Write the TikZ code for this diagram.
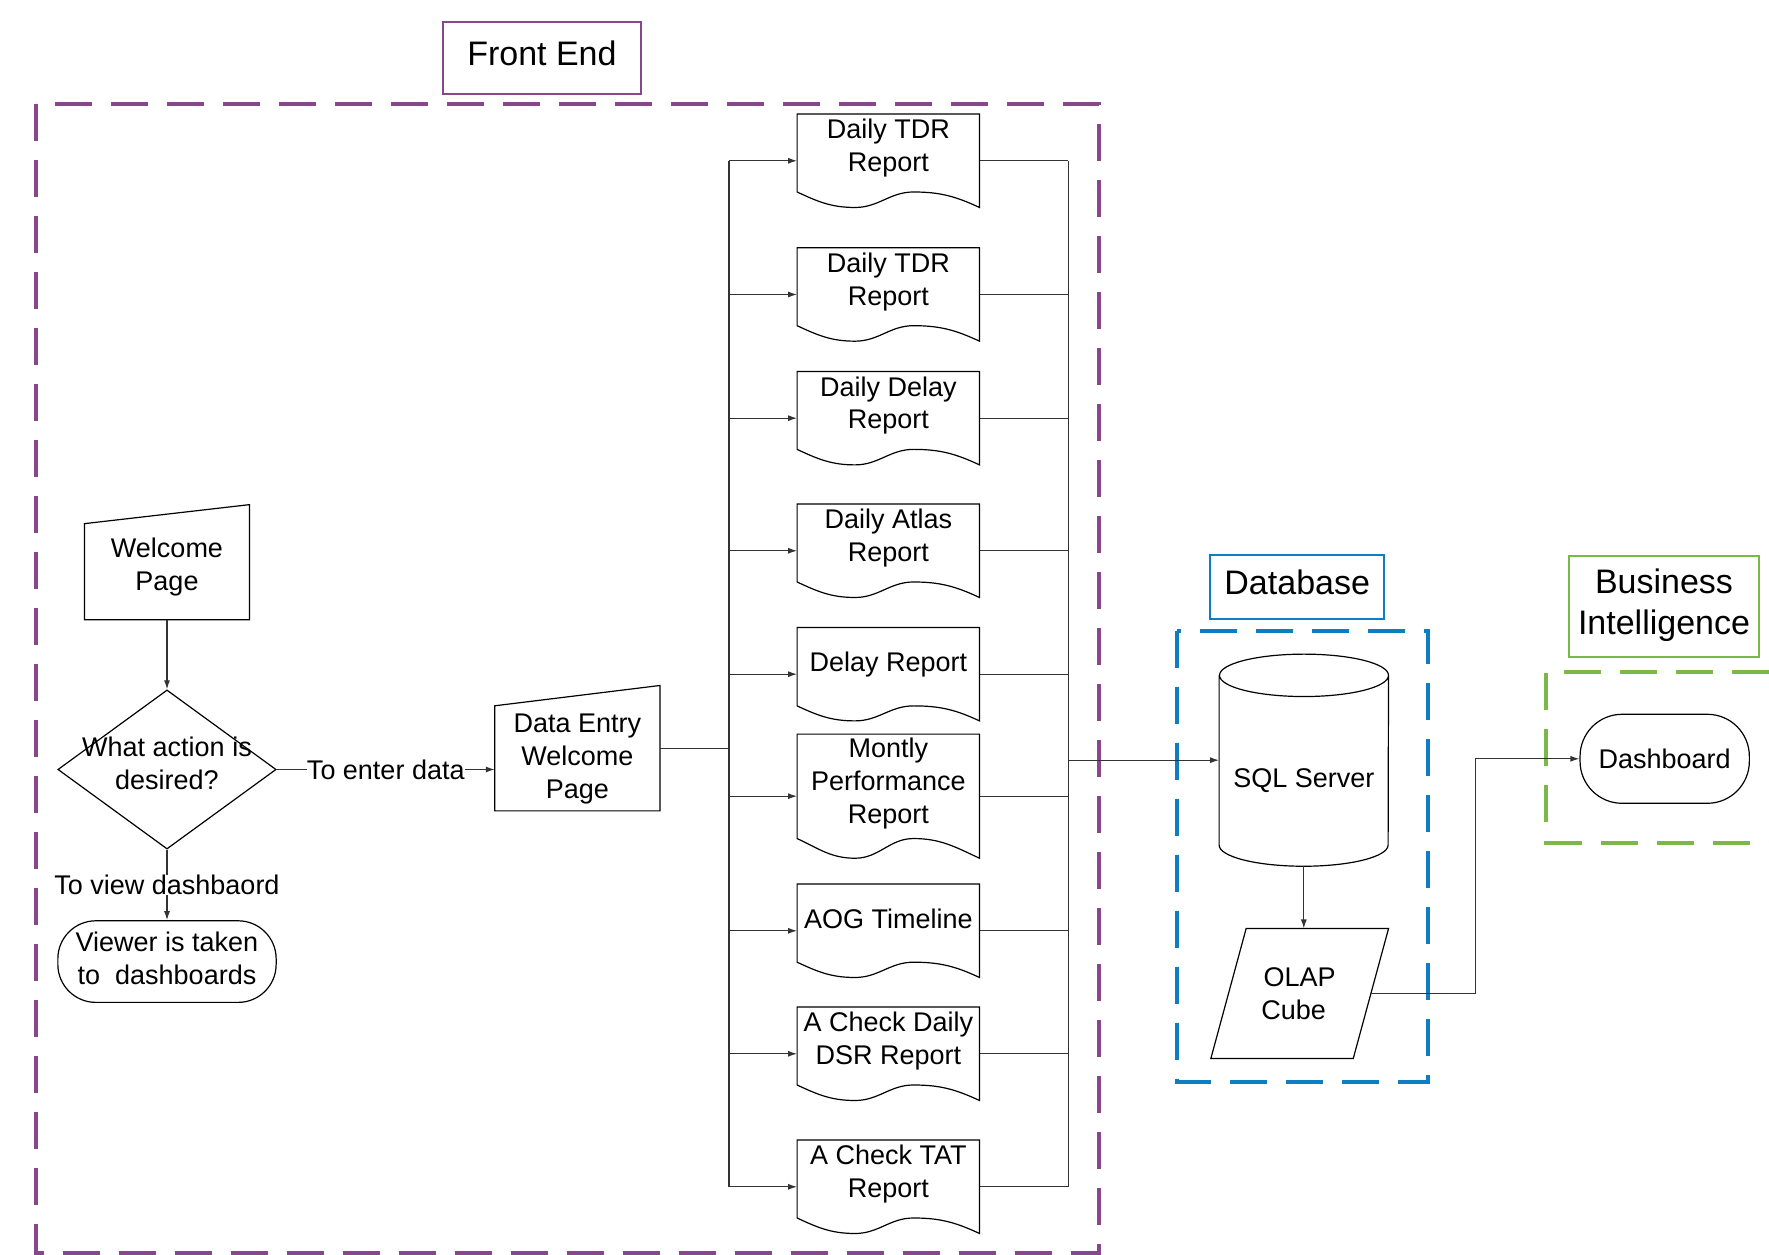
\documentclass[tikz,border=0pt]{standalone}
\usepackage{fontspec}
\setmainfont{Liberation Sans}
\usetikzlibrary{arrows.meta}
\usetikzlibrary{shapes.geometric}

\definecolor{fepurple}{RGB}{134,71,140}
\definecolor{dbblue}{RGB}{14,125,193}
\definecolor{bigreen}{RGB}{122,184,72}

\begin{document}
\begin{tikzpicture}[x=1pt, y=1pt,
  every node/.style={font=\fontsize{27}{32.7}\selectfont},
  headbox/.style={draw, line width=2pt, align=center, text depth=9pt, font=\fontsize{34}{41}\selectfont},
  region/.style={line width=4pt, dash pattern=on 37pt off 19pt},
  box/.style={line width=1.2pt},
  doc/.style={minimum width=182pt, minimum height=93pt, inner sep=0pt, align=center, text depth=31pt},
  link/.style={black!80, line width=1.2pt},
  arr/.style={link, -{Latex[length=9pt, width=6pt]}}]
  \useasboundingbox (0,0) rectangle (1769,1255);

  % Regions and their titles
  \draw[region, fepurple] (36,1151) rectangle (1099,2);
  \draw[region, dbblue] (1177.3,624.3) rectangle (1427.7,172.7);
  \draw[region, bigreen] (1769,583) -- (1546.3,583) -- (1546.3,412.3) -- (1769,412.3);
  \node[headbox, draw=fepurple, minimum width=198pt, minimum height=72pt] (FE) at (541.9,1197.1) {Front End};
  \node[headbox, draw=dbblue, minimum width=174pt, minimum height=64pt] (DBT) at (1297.2,668.1) {Database};
  \node[headbox, draw=bigreen, minimum width=190pt, minimum height=101pt] (BIT) at (1664,648.6) {Business\\Intelligence};

  % Front end: entry and decision
  \node[minimum width=164.6pt, minimum height=114.7pt, inner sep=0pt, align=center, text height=62pt] (W) at (167,692.8) {Welcome\\Page};
  \draw[box] (W.south west) -- ([yshift=-19pt]W.north west) -- (W.north east) -- (W.south east) -- cycle;
  \node[diamond, draw, box, minimum width=218.3pt, minimum height=159.1pt, inner sep=0pt, align=center, text depth=13pt] (Q) at (167,485.5) {\makebox[0pt]{What action is}\\\makebox[0pt]{desired?}};
  \node[draw, box, rounded corners=38pt, minimum width=218.3pt, minimum height=81.6pt, inner sep=0pt, align=center, text depth=7pt] (V) at (167,293.4) {Viewer is taken\\to~ dashboards};
  \node[minimum width=164.7pt, minimum height=125pt, inner sep=0pt, align=center, text height=106pt] (DE) at (577.35,506.8) {Data Entry\\Welcome\\Page};
  \draw[box] (DE.south west) -- ([yshift=-20.3pt]DE.north west) -- (DE.north east) -- (DE.south east) -- cycle;

  % Reports
  \node[doc] (R1) at (888.3,1094.2) {Daily TDR\\Report};
  \node[doc] (R2) at (888.3,960.5) {Daily TDR\\Report};
  \node[doc] (R3) at (888.3,836.8) {Daily Delay\\Report};
  \node[doc] (R4) at (888.3,704.2) {Daily Atlas\\Report};
  \node[doc, text depth=24pt] (R5) at (888.3,580.8) {Delay Report};
  \node[doc, minimum height=123.7pt] (R6) at (888.3,458.8) {Montly\\Performance\\Report};
  \node[doc, text depth=24pt] (R7) at (888.3,324.2) {AOG Timeline};
  \node[doc] (R8) at (888.3,201.2) {A Check Daily\\DSR Report};
  \node[doc] (R9) at (888.3,68.2) {A Check TAT\\Report};
  \foreach \i/\dd in {1/15.5, 2/15.5, 3/15.5, 4/15.5, 5/15, 6/19.7, 7/15.3, 8/15.5, 9/15.5}
    \draw[box] (R\i.south east) -- (R\i.north east) -- (R\i.north west) -- ([yshift=\dd pt]R\i.south west)
      to[out=-25, in=180] ([xshift=58pt]R\i.south west)
      to[out=0, in=180] ([xshift=-66pt, yshift=\dd pt]R\i.south east)
      to[out=0, in=155] (R\i.south east) -- cycle;

  % Database and BI
  \node[minimum width=169pt, minimum height=211.7pt, inner sep=0pt, text height=59pt] (SQL) at (1303.8,494.8) {SQL Server};
  \draw[box] ([yshift=-21.2pt]SQL.north west) -- ([yshift=21.2pt]SQL.south west)
    arc[start angle=180, end angle=360, x radius=84.5pt, y radius=21.2pt]
    -- ([yshift=-21.2pt]SQL.north east)
    arc[start angle=0, end angle=360, x radius=84.5pt, y radius=21.2pt];
  \node[minimum width=177.3pt, minimum height=129.6pt, inner sep=0pt, align=center] (OLAP) at (1299.7,261.5) {OLAP\\Cube\hspace*{12pt}};
  \draw[box] (OLAP.south west) -- ([xshift=35.3pt]OLAP.north west) -- (OLAP.north east) -- ([xshift=-35.3pt]OLAP.south east) -- cycle;
  \node[draw, box, rounded corners=42pt, minimum width=169.3pt, minimum height=89pt, inner sep=0pt] (D) at (1664.7,496.2) {Dashboard};

  % Connectors
  \coordinate (LB) at (729,0);
  \coordinate (RB) at (1068.3,0);
  \draw[arr] (W.south) -- (Q.north);
  \draw[arr] (Q.east) -- (Q.east -| DE.west) node[midway, fill=white, text=black, inner sep=0pt] {To enter data};
  \draw[arr] (Q.south) -- (V.north) node[midway, fill=white, text=black, inner sep=0pt] {To view dashbaord};
  \draw[link] (DE.east) -- (DE.east -| LB);
  \draw[link] (R1.west -| LB) -- (R9.west -| LB);
  \draw[link] (R1.east -| RB) -- (R9.east -| RB);
  \foreach \i in {1,...,9} {
    \draw[arr] (R\i.west -| LB) -- (R\i.west);
    \draw[link] (R\i.east) -- (R\i.east -| RB);
  }
  \draw[arr] (SQL.west -| RB) -- (SQL.west);
  \draw[arr] (SQL.south) -- (SQL.south |- OLAP.north);
  \draw[arr] ([xshift=-17.6pt]OLAP.east) -- ++(104.7,0) |- (D.west);
\end{tikzpicture}
\end{document}
